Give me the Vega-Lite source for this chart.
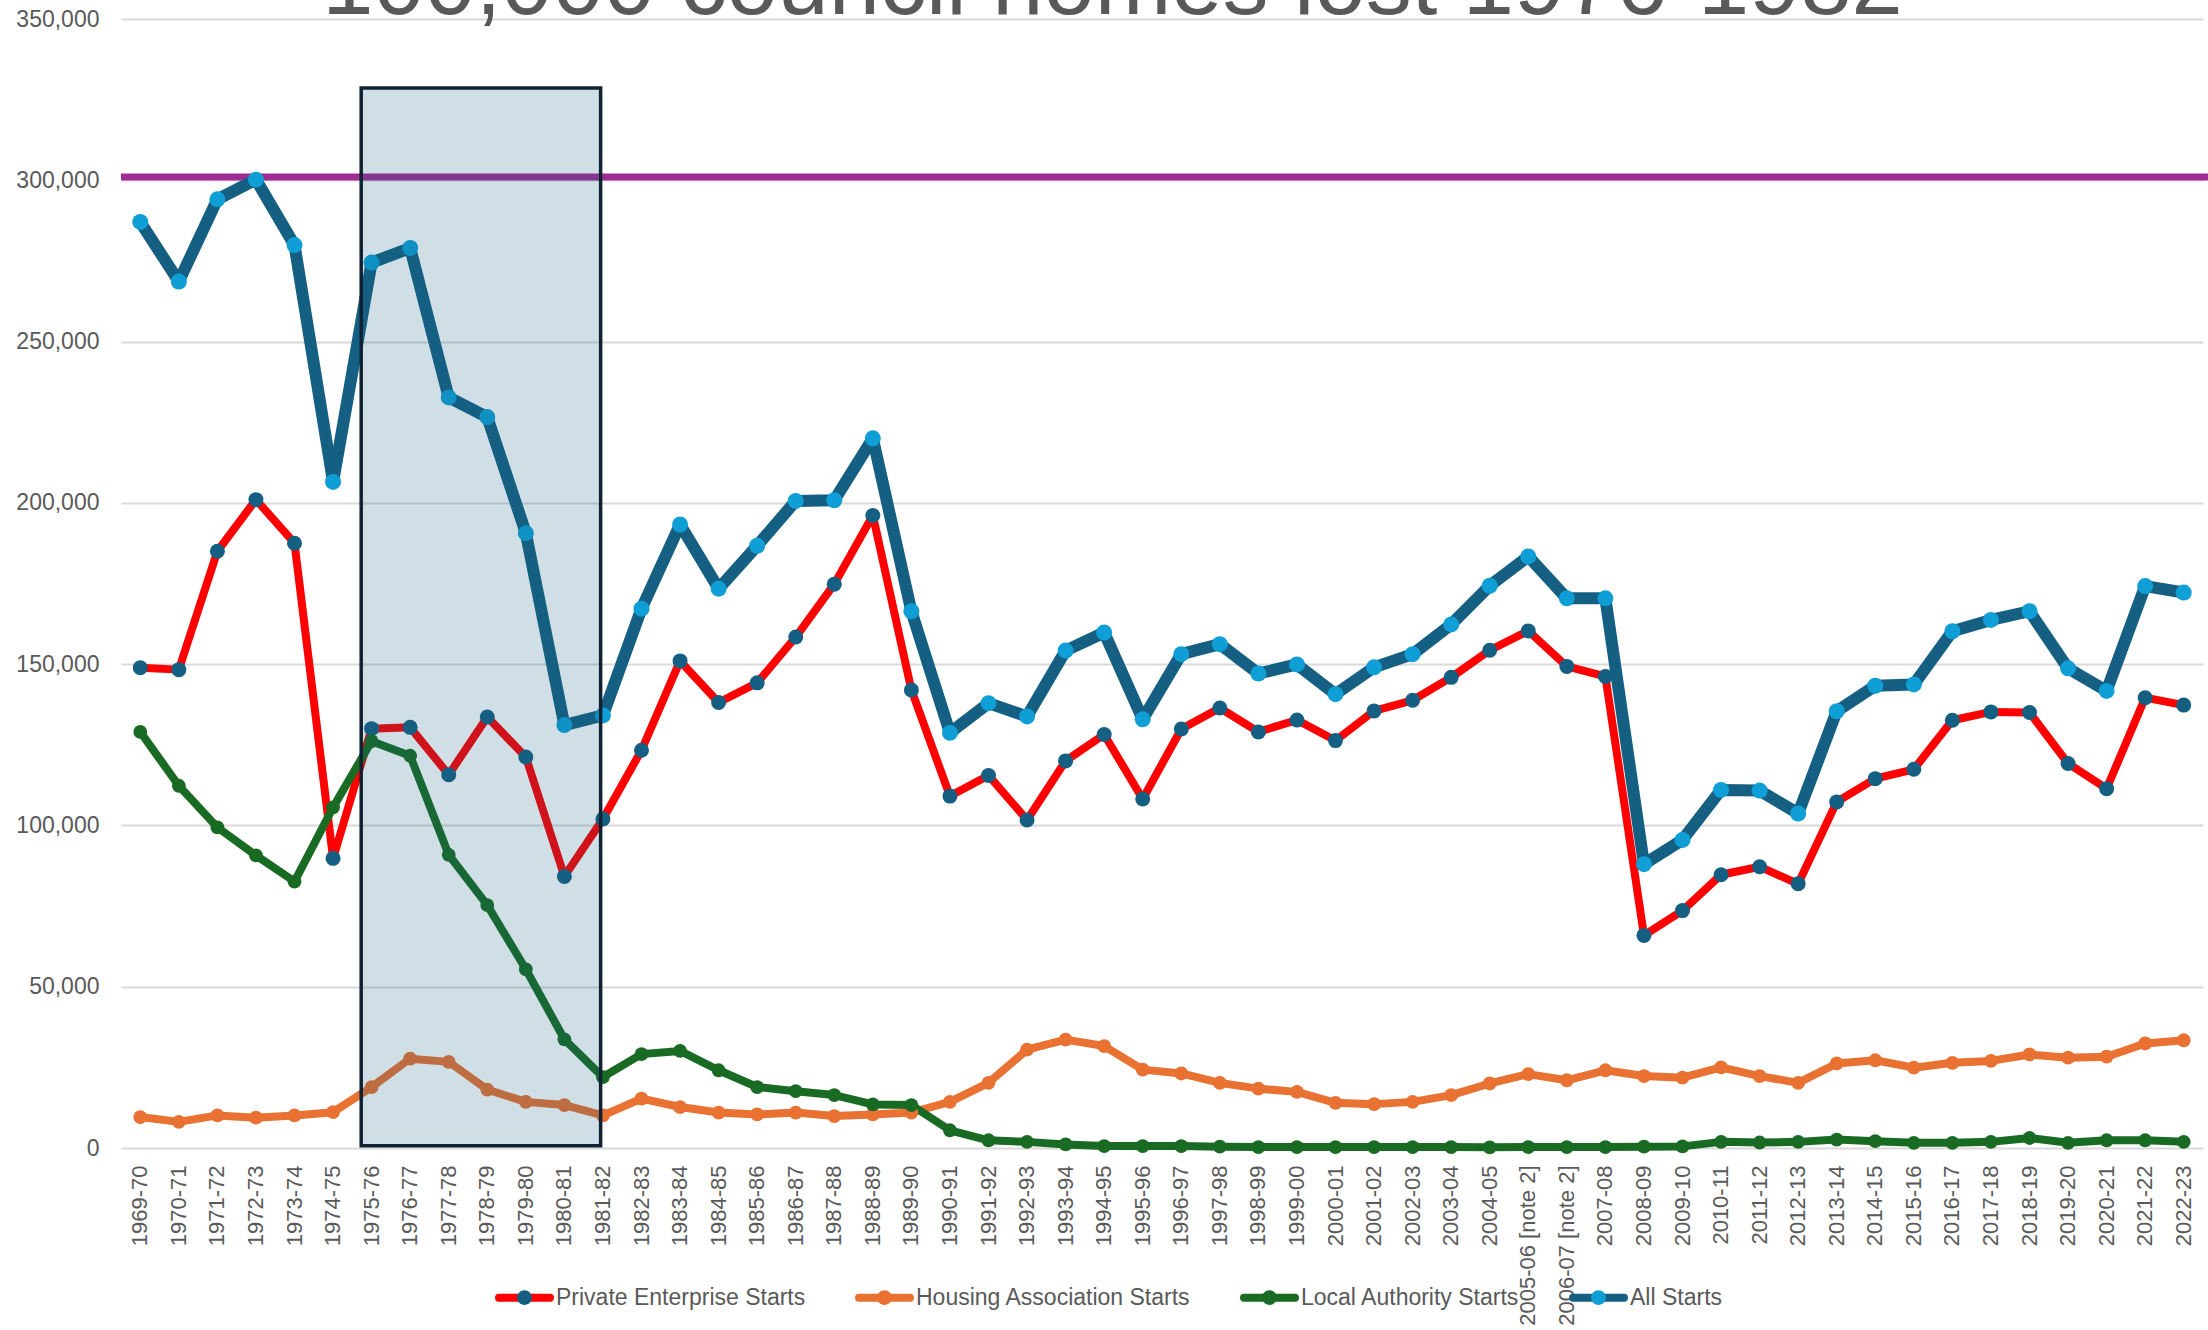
{
  "$schema": "https://vega.github.io/schema/vega-lite/v6.json",
  "width": 2087,
  "height": 1129,
  "autosize": {"type": "none"},
  "padding": {"left": 121, "top": 19, "right": 0, "bottom": 182},
  "background": "white",
  "config": {"view": {"stroke": null}, "font": "Liberation Sans"},
  "title": {"text": "100,000 council homes lost 1976-1982", "fontSize": 92, "font": "Liberation Sans", "fontWeight": "normal", "color": "#595959", "anchor": "middle", "offset": 0, "dx": -52, "dy": 25},
  "data": {"values": [
    {"year":"1969-70","series":"Private Enterprise Starts","starts":148900},
    {"year":"1970-71","series":"Private Enterprise Starts","starts":148300},
    {"year":"1971-72","series":"Private Enterprise Starts","starts":185000},
    {"year":"1972-73","series":"Private Enterprise Starts","starts":201000},
    {"year":"1973-74","series":"Private Enterprise Starts","starts":187500},
    {"year":"1974-75","series":"Private Enterprise Starts","starts":89800},
    {"year":"1975-76","series":"Private Enterprise Starts","starts":130000},
    {"year":"1976-77","series":"Private Enterprise Starts","starts":130400},
    {"year":"1977-78","series":"Private Enterprise Starts","starts":115700},
    {"year":"1978-79","series":"Private Enterprise Starts","starts":133600},
    {"year":"1979-80","series":"Private Enterprise Starts","starts":121200},
    {"year":"1980-81","series":"Private Enterprise Starts","starts":84200},
    {"year":"1981-82","series":"Private Enterprise Starts","starts":102000},
    {"year":"1982-83","series":"Private Enterprise Starts","starts":123300},
    {"year":"1983-84","series":"Private Enterprise Starts","starts":151000},
    {"year":"1984-85","series":"Private Enterprise Starts","starts":138100},
    {"year":"1985-86","series":"Private Enterprise Starts","starts":144200},
    {"year":"1986-87","series":"Private Enterprise Starts","starts":158400},
    {"year":"1987-88","series":"Private Enterprise Starts","starts":174800},
    {"year":"1988-89","series":"Private Enterprise Starts","starts":196100},
    {"year":"1989-90","series":"Private Enterprise Starts","starts":142000},
    {"year":"1990-91","series":"Private Enterprise Starts","starts":109100},
    {"year":"1991-92","series":"Private Enterprise Starts","starts":115500},
    {"year":"1992-93","series":"Private Enterprise Starts","starts":101700},
    {"year":"1993-94","series":"Private Enterprise Starts","starts":120000},
    {"year":"1994-95","series":"Private Enterprise Starts","starts":128200},
    {"year":"1995-96","series":"Private Enterprise Starts","starts":108200},
    {"year":"1996-97","series":"Private Enterprise Starts","starts":129900},
    {"year":"1997-98","series":"Private Enterprise Starts","starts":136400},
    {"year":"1998-99","series":"Private Enterprise Starts","starts":129000},
    {"year":"1999-00","series":"Private Enterprise Starts","starts":132700},
    {"year":"2000-01","series":"Private Enterprise Starts","starts":126300},
    {"year":"2001-02","series":"Private Enterprise Starts","starts":135500},
    {"year":"2002-03","series":"Private Enterprise Starts","starts":138800},
    {"year":"2003-04","series":"Private Enterprise Starts","starts":145900},
    {"year":"2004-05","series":"Private Enterprise Starts","starts":154300},
    {"year":"2005-06 [note 2]","series":"Private Enterprise Starts","starts":160300},
    {"year":"2006-07 [note 2]","series":"Private Enterprise Starts","starts":149300},
    {"year":"2007-08","series":"Private Enterprise Starts","starts":146200},
    {"year":"2008-09","series":"Private Enterprise Starts","starts":65900},
    {"year":"2009-10","series":"Private Enterprise Starts","starts":73600},
    {"year":"2010-11","series":"Private Enterprise Starts","starts":84700},
    {"year":"2011-12","series":"Private Enterprise Starts","starts":87200},
    {"year":"2012-13","series":"Private Enterprise Starts","starts":81900},
    {"year":"2013-14","series":"Private Enterprise Starts","starts":107300},
    {"year":"2014-15","series":"Private Enterprise Starts","starts":114500},
    {"year":"2015-16","series":"Private Enterprise Starts","starts":117400},
    {"year":"2016-17","series":"Private Enterprise Starts","starts":132600},
    {"year":"2017-18","series":"Private Enterprise Starts","starts":135200},
    {"year":"2018-19","series":"Private Enterprise Starts","starts":135000},
    {"year":"2019-20","series":"Private Enterprise Starts","starts":119200},
    {"year":"2020-21","series":"Private Enterprise Starts","starts":111400},
    {"year":"2021-22","series":"Private Enterprise Starts","starts":139600},
    {"year":"2022-23","series":"Private Enterprise Starts","starts":137300},
    {"year":"1969-70","series":"Housing Association Starts","starts":9600},
    {"year":"1970-71","series":"Housing Association Starts","starts":8100},
    {"year":"1971-72","series":"Housing Association Starts","starts":10100},
    {"year":"1972-73","series":"Housing Association Starts","starts":9400},
    {"year":"1973-74","series":"Housing Association Starts","starts":10100},
    {"year":"1974-75","series":"Housing Association Starts","starts":11100},
    {"year":"1975-76","series":"Housing Association Starts","starts":18900},
    {"year":"1976-77","series":"Housing Association Starts","starts":27700},
    {"year":"1977-78","series":"Housing Association Starts","starts":26700},
    {"year":"1978-79","series":"Housing Association Starts","starts":18100},
    {"year":"1979-80","series":"Housing Association Starts","starts":14300},
    {"year":"1980-81","series":"Housing Association Starts","starts":13300},
    {"year":"1981-82","series":"Housing Association Starts","starts":10100},
    {"year":"1982-83","series":"Housing Association Starts","starts":15300},
    {"year":"1983-84","series":"Housing Association Starts","starts":12700},
    {"year":"1984-85","series":"Housing Association Starts","starts":11000},
    {"year":"1985-86","series":"Housing Association Starts","starts":10400},
    {"year":"1986-87","series":"Housing Association Starts","starts":11000},
    {"year":"1987-88","series":"Housing Association Starts","starts":9900},
    {"year":"1988-89","series":"Housing Association Starts","starts":10400},
    {"year":"1989-90","series":"Housing Association Starts","starts":11000},
    {"year":"1990-91","series":"Housing Association Starts","starts":14300},
    {"year":"1991-92","series":"Housing Association Starts","starts":20200},
    {"year":"1992-93","series":"Housing Association Starts","starts":30500},
    {"year":"1993-94","series":"Housing Association Starts","starts":33600},
    {"year":"1994-95","series":"Housing Association Starts","starts":31600},
    {"year":"1995-96","series":"Housing Association Starts","starts":24300},
    {"year":"1996-97","series":"Housing Association Starts","starts":23100},
    {"year":"1997-98","series":"Housing Association Starts","starts":20200},
    {"year":"1998-99","series":"Housing Association Starts","starts":18400},
    {"year":"1999-00","series":"Housing Association Starts","starts":17400},
    {"year":"2000-01","series":"Housing Association Starts","starts":14000},
    {"year":"2001-02","series":"Housing Association Starts","starts":13600},
    {"year":"2002-03","series":"Housing Association Starts","starts":14300},
    {"year":"2003-04","series":"Housing Association Starts","starts":16400},
    {"year":"2004-05","series":"Housing Association Starts","starts":20000},
    {"year":"2005-06 [note 2]","series":"Housing Association Starts","starts":22900},
    {"year":"2006-07 [note 2]","series":"Housing Association Starts","starts":21000},
    {"year":"2007-08","series":"Housing Association Starts","starts":24100},
    {"year":"2008-09","series":"Housing Association Starts","starts":22300},
    {"year":"2009-10","series":"Housing Association Starts","starts":21800},
    {"year":"2010-11","series":"Housing Association Starts","starts":25000},
    {"year":"2011-12","series":"Housing Association Starts","starts":22300},
    {"year":"2012-13","series":"Housing Association Starts","starts":20200},
    {"year":"2013-14","series":"Housing Association Starts","starts":26200},
    {"year":"2014-15","series":"Housing Association Starts","starts":27200},
    {"year":"2015-16","series":"Housing Association Starts","starts":24900},
    {"year":"2016-17","series":"Housing Association Starts","starts":26400},
    {"year":"2017-18","series":"Housing Association Starts","starts":27000},
    {"year":"2018-19","series":"Housing Association Starts","starts":29000},
    {"year":"2019-20","series":"Housing Association Starts","starts":28000},
    {"year":"2020-21","series":"Housing Association Starts","starts":28300},
    {"year":"2021-22","series":"Housing Association Starts","starts":32400},
    {"year":"2022-23","series":"Housing Association Starts","starts":33400},
    {"year":"1969-70","series":"Local Authority Starts","starts":129000},
    {"year":"1970-71","series":"Local Authority Starts","starts":112300},
    {"year":"1971-72","series":"Local Authority Starts","starts":99400},
    {"year":"1972-73","series":"Local Authority Starts","starts":90700},
    {"year":"1973-74","series":"Local Authority Starts","starts":82600},
    {"year":"1974-75","series":"Local Authority Starts","starts":105600},
    {"year":"1975-76","series":"Local Authority Starts","starts":126100},
    {"year":"1976-77","series":"Local Authority Starts","starts":121600},
    {"year":"1977-78","series":"Local Authority Starts","starts":90900},
    {"year":"1978-79","series":"Local Authority Starts","starts":75300},
    {"year":"1979-80","series":"Local Authority Starts","starts":55400},
    {"year":"1980-81","series":"Local Authority Starts","starts":33700},
    {"year":"1981-82","series":"Local Authority Starts","starts":22000},
    {"year":"1982-83","series":"Local Authority Starts","starts":29100},
    {"year":"1983-84","series":"Local Authority Starts","starts":30100},
    {"year":"1984-85","series":"Local Authority Starts","starts":24100},
    {"year":"1985-86","series":"Local Authority Starts","starts":18900},
    {"year":"1986-87","series":"Local Authority Starts","starts":17600},
    {"year":"1987-88","series":"Local Authority Starts","starts":16400},
    {"year":"1988-89","series":"Local Authority Starts","starts":13500},
    {"year":"1989-90","series":"Local Authority Starts","starts":13300},
    {"year":"1990-91","series":"Local Authority Starts","starts":5500},
    {"year":"1991-92","series":"Local Authority Starts","starts":2400},
    {"year":"1992-93","series":"Local Authority Starts","starts":1900},
    {"year":"1993-94","series":"Local Authority Starts","starts":1100},
    {"year":"1994-95","series":"Local Authority Starts","starts":600},
    {"year":"1995-96","series":"Local Authority Starts","starts":600},
    {"year":"1996-97","series":"Local Authority Starts","starts":600},
    {"year":"1997-98","series":"Local Authority Starts","starts":400},
    {"year":"1998-99","series":"Local Authority Starts","starts":300},
    {"year":"1999-00","series":"Local Authority Starts","starts":300},
    {"year":"2000-01","series":"Local Authority Starts","starts":300},
    {"year":"2001-02","series":"Local Authority Starts","starts":300},
    {"year":"2002-03","series":"Local Authority Starts","starts":300},
    {"year":"2003-04","series":"Local Authority Starts","starts":300},
    {"year":"2004-05","series":"Local Authority Starts","starts":200},
    {"year":"2005-06 [note 2]","series":"Local Authority Starts","starts":300},
    {"year":"2006-07 [note 2]","series":"Local Authority Starts","starts":300},
    {"year":"2007-08","series":"Local Authority Starts","starts":300},
    {"year":"2008-09","series":"Local Authority Starts","starts":400},
    {"year":"2009-10","series":"Local Authority Starts","starts":500},
    {"year":"2010-11","series":"Local Authority Starts","starts":1900},
    {"year":"2011-12","series":"Local Authority Starts","starts":1700},
    {"year":"2012-13","series":"Local Authority Starts","starts":1900},
    {"year":"2013-14","series":"Local Authority Starts","starts":2600},
    {"year":"2014-15","series":"Local Authority Starts","starts":2100},
    {"year":"2015-16","series":"Local Authority Starts","starts":1600},
    {"year":"2016-17","series":"Local Authority Starts","starts":1600},
    {"year":"2017-18","series":"Local Authority Starts","starts":1900},
    {"year":"2018-19","series":"Local Authority Starts","starts":3100},
    {"year":"2019-20","series":"Local Authority Starts","starts":1600},
    {"year":"2020-21","series":"Local Authority Starts","starts":2400},
    {"year":"2021-22","series":"Local Authority Starts","starts":2400},
    {"year":"2022-23","series":"Local Authority Starts","starts":1900},
    {"year":"1969-70","series":"All Starts","starts":287100},
    {"year":"1970-71","series":"All Starts","starts":268600},
    {"year":"1971-72","series":"All Starts","starts":294100},
    {"year":"1972-73","series":"All Starts","starts":300200},
    {"year":"1973-74","series":"All Starts","starts":279900},
    {"year":"1974-75","series":"All Starts","starts":206500},
    {"year":"1975-76","series":"All Starts","starts":274500},
    {"year":"1976-77","series":"All Starts","starts":279000},
    {"year":"1977-78","series":"All Starts","starts":232700},
    {"year":"1978-79","series":"All Starts","starts":226600},
    {"year":"1979-80","series":"All Starts","starts":190600},
    {"year":"1980-81","series":"All Starts","starts":131100},
    {"year":"1981-82","series":"All Starts","starts":134100},
    {"year":"1982-83","series":"All Starts","starts":167200},
    {"year":"1983-84","series":"All Starts","starts":193300},
    {"year":"1984-85","series":"All Starts","starts":173400},
    {"year":"1985-86","series":"All Starts","starts":186700},
    {"year":"1986-87","series":"All Starts","starts":200600},
    {"year":"1987-88","series":"All Starts","starts":200800},
    {"year":"1988-89","series":"All Starts","starts":220000},
    {"year":"1989-90","series":"All Starts","starts":166400},
    {"year":"1990-91","series":"All Starts","starts":128700},
    {"year":"1991-92","series":"All Starts","starts":137900},
    {"year":"1992-93","series":"All Starts","starts":133800},
    {"year":"1993-94","series":"All Starts","starts":154200},
    {"year":"1994-95","series":"All Starts","starts":159800},
    {"year":"1995-96","series":"All Starts","starts":132900},
    {"year":"1996-97","series":"All Starts","starts":153100},
    {"year":"1997-98","series":"All Starts","starts":156200},
    {"year":"1998-99","series":"All Starts","starts":147100},
    {"year":"1999-00","series":"All Starts","starts":149900},
    {"year":"2000-01","series":"All Starts","starts":140700},
    {"year":"2001-02","series":"All Starts","starts":149000},
    {"year":"2002-03","series":"All Starts","starts":153100},
    {"year":"2003-04","series":"All Starts","starts":162300},
    {"year":"2004-05","series":"All Starts","starts":174300},
    {"year":"2005-06 [note 2]","series":"All Starts","starts":183400},
    {"year":"2006-07 [note 2]","series":"All Starts","starts":170400},
    {"year":"2007-08","series":"All Starts","starts":170400},
    {"year":"2008-09","series":"All Starts","starts":88000},
    {"year":"2009-10","series":"All Starts","starts":95500},
    {"year":"2010-11","series":"All Starts","starts":111000},
    {"year":"2011-12","series":"All Starts","starts":110800},
    {"year":"2012-13","series":"All Starts","starts":103700},
    {"year":"2013-14","series":"All Starts","starts":135400},
    {"year":"2014-15","series":"All Starts","starts":143300},
    {"year":"2015-16","series":"All Starts","starts":143700},
    {"year":"2016-17","series":"All Starts","starts":160200},
    {"year":"2017-18","series":"All Starts","starts":163700},
    {"year":"2018-19","series":"All Starts","starts":166400},
    {"year":"2019-20","series":"All Starts","starts":148700},
    {"year":"2020-21","series":"All Starts","starts":141700},
    {"year":"2021-22","series":"All Starts","starts":174200},
    {"year":"2022-23","series":"All Starts","starts":172200}
  ]},
  "layer": [
    {
      "data": {"values": [{"level": 301000}]},
      "mark": {"type": "rule", "color": "#A02B93", "strokeWidth": 7},
      "encoding": {
        "y": {
          "field": "level", "type": "quantitative",
          "scale": {"domain": [0, 350000]},
          "axis": {"title": null, "values": [0, 50000, 100000, 150000, 200000, 250000, 300000, 350000], "format": ",.0f", "labelFontSize": 23, "labelColor": "#595959", "labelFont": "Liberation Sans", "labelPadding": 22, "ticks": false, "domain": false, "gridColor": "#D9D9D9", "gridWidth": 2, "labelOverlap": false}
        }
      }
    },
    {
      "mark": {"type": "line", "strokeCap": "round", "strokeJoin": "round"},
      "encoding": {
        "x": {
          "field": "year", "type": "ordinal",
          "scale": {"type": "band", "paddingInner": 0, "paddingOuter": 0, "range": [0, 2082]},
          "axis": {"title": null, "labelAngle": -90, "labelFontSize": 22, "labelColor": "#595959", "labelFont": "Liberation Sans", "labelPadding": 17, "ticks": false, "domain": false, "grid": false, "labelOverlap": false, "labelLimit": 300}
        },
        "y": {
          "field": "starts", "type": "quantitative",
          "scale": {"domain": [0, 350000]},
          "axis": {"title": null, "values": [0, 50000, 100000, 150000, 200000, 250000, 300000, 350000], "format": ",.0f", "labelFontSize": 23, "labelColor": "#595959", "labelFont": "Liberation Sans", "labelPadding": 22, "ticks": false, "domain": false, "gridColor": "#D9D9D9", "gridWidth": 2, "labelOverlap": false}
        },
        "color": {
          "field": "series", "type": "nominal",
          "scale": {"domain": ["Private Enterprise Starts", "Housing Association Starts", "Local Authority Starts", "All Starts"], "range": ["#FF0000", "#E97132", "#196B24", "#156082"]},
          "legend": {"title": null, "orient": "none", "legendX": 374, "legendY": 1249, "direction": "horizontal", "symbolType": "M-1,0H1", "symbolSize": 2601, "symbolStrokeWidth": 8, "labelFontSize": 23, "labelColor": "#595959", "labelFont": "Liberation Sans", "labelOffset": 2, "columnPadding": 37, "padding": 0, "labelLimit": 400, "zindex": 0,
            "encode": {"symbols": {"update": {"strokeCap": {"value": "round"}}}}}
        },
        "strokeWidth": {"condition": {"test": "datum.series === 'All Starts'", "value": 12}, "value": 8}
      }
    },
    {
      "mark": {"type": "circle", "opacity": 1},
      "encoding": {
        "x": {"field": "year", "type": "ordinal"},
        "y": {"field": "starts", "type": "quantitative"},
        "fill": {
          "field": "series", "type": "nominal",
          "sort": ["Private Enterprise Starts", "Housing Association Starts", "Local Authority Starts", "All Starts"],
          "scale": {"range": ["#156082", "#E97132", "#196B24", "#0F9ED5"]},
          "legend": {"title": null, "orient": "none", "legendX": 374, "legendY": 1249, "direction": "horizontal", "symbolType": "M-1,0H1M-0.29,0A0.29,0.29,0,1,1,0.29,0A0.29,0.29,0,1,1,-0.29,0Z", "symbolSize": 2601, "symbolStrokeWidth": 8, "symbolStrokeColor": "transparent", "labelFontSize": 23, "labelOpacity": 0, "labelFont": "Liberation Sans", "labelOffset": 2, "columnPadding": 37, "padding": 0, "labelLimit": 400, "zindex": 1}
        },
        "size": {"condition": [{"test": "datum.series === 'All Starts'", "value": 256}, {"test": "datum.series === 'Private Enterprise Starts'", "value": 225}], "value": 190}
      }
    },
    {
      "data": {"values": [{"from": "1975-76", "to": "1981-82", "top": 328600, "bottom": 700}]},
      "mark": {"type": "rect", "fill": "#156082", "fillOpacity": 0.2, "stroke": "#0E2233", "strokeWidth": 3.5},
      "encoding": {
        "x": {"field": "from", "type": "ordinal", "bandPosition": 0.23},
        "x2": {"field": "to", "bandPosition": 0.44},
        "y": {"field": "top", "type": "quantitative"},
        "y2": {"field": "bottom"}
      }
    }
  ]
}
